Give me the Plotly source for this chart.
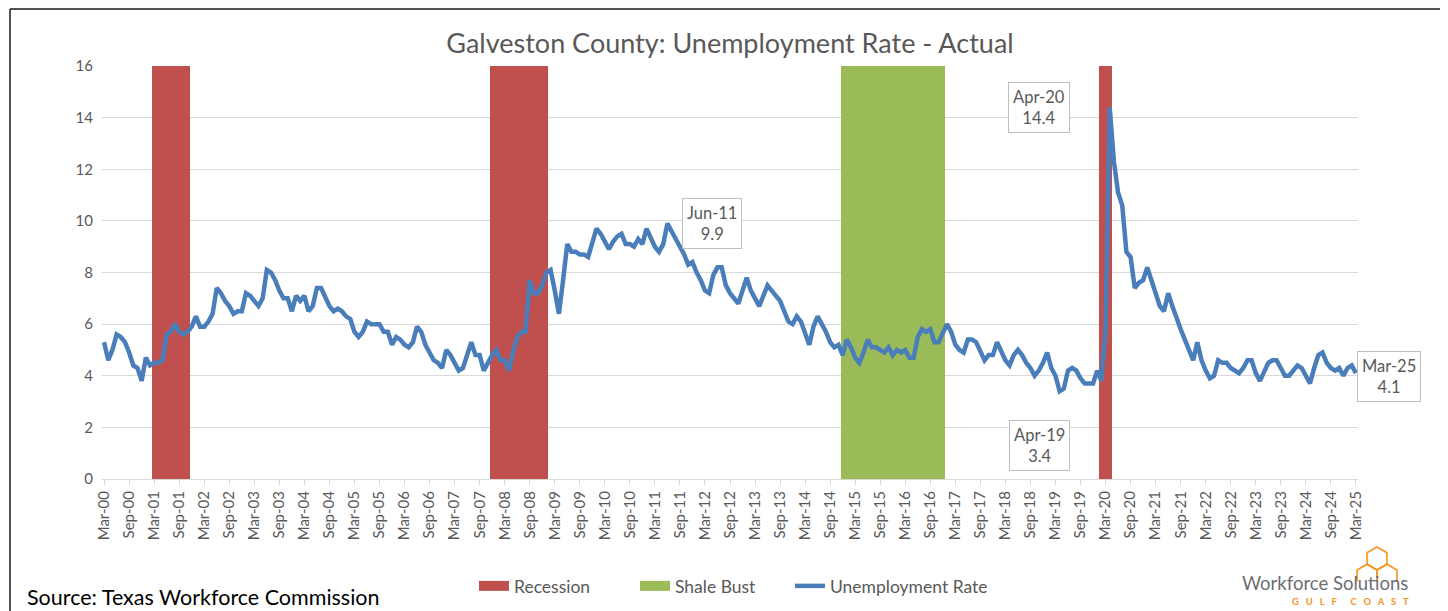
import math
import pandas as pd
import plotly.graph_objects as go

# ---------------- data ----------------
months = list(pd.period_range("2000-03", "2025-03", freq="M").strftime("%b-%y"))

unemployment_rate = [
    5.3, 4.6, 5.0, 5.6, 5.5, 5.3, 4.9, 4.4, 4.3, 3.8, 4.7, 4.4,
    4.5, 4.5, 4.6, 5.6, 5.7, 6.0, 5.7, 5.6, 5.7, 5.9, 6.3, 5.9,
    5.9, 6.1, 6.4, 7.4, 7.2, 6.9, 6.7, 6.4, 6.5, 6.5, 7.2, 7.1,
    6.9, 6.7, 7.0, 8.1, 8.0, 7.7, 7.3, 7.0, 7.0, 6.5, 7.1, 6.9,
    7.1, 6.5, 6.7, 7.4, 7.4, 7.0, 6.7, 6.5, 6.6, 6.5, 6.3, 6.2,
    5.7, 5.5, 5.7, 6.1, 6.0, 6.0, 6.0, 5.7, 5.7, 5.2, 5.5, 5.4,
    5.2, 5.1, 5.3, 5.9, 5.7, 5.2, 4.9, 4.6, 4.5, 4.3, 5.0, 4.8,
    4.5, 4.2, 4.3, 4.8, 5.3, 4.8, 4.8, 4.2, 4.5, 4.8, 5.0, 4.6,
    4.6, 4.2, 4.9, 5.5, 5.7, 5.7, 7.7, 7.2, 7.2, 7.5, 8.0, 8.1,
    7.3, 6.4, 7.7, 9.1, 8.8, 8.8, 8.7, 8.7, 8.6, 9.2, 9.7, 9.5,
    9.2, 8.9, 9.2, 9.4, 9.5, 9.1, 9.1, 9.0, 9.3, 9.1, 9.7, 9.3,
    9.0, 8.8, 9.1, 9.9, 9.6, 9.3, 9.0, 8.7, 8.3, 8.4, 8.0, 7.7,
    7.3, 7.2, 7.9, 8.2, 8.2, 7.5, 7.2, 7.0, 6.8, 7.3, 7.8, 7.3,
    7.0, 6.7, 7.1, 7.5, 7.3, 7.1, 6.9, 6.5, 6.1, 6.0, 6.3, 6.1,
    5.6, 5.2, 5.9, 6.3, 6.0, 5.7, 5.3, 5.1, 5.2, 4.8, 5.4, 5.1,
    4.7, 4.5, 4.9, 5.4, 5.1, 5.1, 5.0, 4.9, 5.1, 4.8, 5.0, 4.9,
    5.0, 4.7, 4.7, 5.5, 5.8, 5.7, 5.8, 5.3, 5.3, 5.7, 6.0, 5.7,
    5.2, 5.0, 4.9, 5.4, 5.4, 5.3, 4.9, 4.6, 4.8, 4.8, 5.3, 4.9,
    4.6, 4.4, 4.8, 5.0, 4.8, 4.5, 4.3, 4.0, 4.2, 4.5, 4.9, 4.3,
    4.0, 3.4, 3.5, 4.2, 4.3, 4.2, 3.9, 3.7, 3.7, 3.7, 4.2, 3.8,
    5.8, 14.4, 12.3, 11.1, 10.6, 8.8, 8.6, 7.4, 7.6, 7.7, 8.2, 7.7,
    7.1, 6.7, 6.5, 7.2, 6.7, 6.2, 5.8, 5.4, 5.0, 4.6, 5.3, 4.6,
    4.2, 3.9, 4.0, 4.6, 4.5, 4.5, 4.3, 4.2, 4.1, 4.3, 4.6, 4.6,
    4.1, 3.8, 4.2, 4.5, 4.6, 4.6, 4.3, 4.0, 4.0, 4.2, 4.4, 4.3,
    4.0, 3.7, 4.3, 4.8, 4.9, 4.5, 4.3, 4.2, 4.3, 4.0, 4.3, 4.4,
    4.1,
]

recession_periods = [("Mar-01", "Nov-01"), ("Dec-07", "Jan-09"), ("Feb-20", "Apr-20")]
shale_bust_periods = [("Dec-14", "Dec-16")]
band_top = 16

tick_labels = months[::6]

callouts = [  # (month, xshift px, yshift px)
    ("Jun-11", 45, 0),
    ("Apr-20", -71, 0),
    ("Apr-19", -20, -54),
    ("Mar-25", 33, -3),
]


def band_values(periods):
    out = [None] * len(months)
    for a, b in periods:
        for k in range(months.index(a), months.index(b) + 1):
            out[k] = band_top
    return out


recession = band_values(recession_periods)
shale = band_values(shale_bust_periods)

# ---------------- styling ----------------
FONT = "Lato"
GREY = "#595959"
RED = "#C0504D"
GREEN = "#9BBB59"
BLUE = "#4A7EBB"
ORANGE = "#F7941D"

OFF = 8                      # page body margin offset
W, H = 1448 - OFF, 611 - OFF
PL, PR, PT, PB = 102, 1358, 66, 479   # plot area in reference pixels


def px(x):
    return (x - PL) / (PR - PL)


def py(y):
    return (PB - y) / (PB - PT)


fig = go.Figure()
fig.add_trace(go.Bar(x=months, y=recession, name="Recession", showlegend=False,
                     marker=dict(color=RED, line=dict(width=0)), hoverinfo="skip"))
fig.add_trace(go.Bar(x=months, y=shale, name="Shale Bust", showlegend=False,
                     marker=dict(color=GREEN, line=dict(width=0)), hoverinfo="skip"))
# legend-only entries drawn as wide swatches
fig.add_trace(go.Scatter(x=[None], y=[None], mode="lines", name="Recession",
                         line=dict(color=RED, width=12), legend="legend"))
fig.add_trace(go.Scatter(x=[None], y=[None], mode="lines", name="Shale Bust",
                         line=dict(color=GREEN, width=12), legend="legend2"))
fig.add_trace(go.Scatter(x=months, y=unemployment_rate, mode="lines", name="Unemployment Rate",
                         line=dict(color=BLUE, width=4.5, shape="linear"), legend="legend3"))

annotations = []
for m, dx, dy in callouts:
    k = months.index(m)
    annotations.append(dict(
        x=m, y=unemployment_rate[k], xref="x", yref="y",
        text=f"{m}<br>{unemployment_rate[k]:.1f}", showarrow=False,
        xshift=dx, yshift=dy, align="center",
        font=dict(family=FONT, size=16.5, color=GREY),
        bgcolor="white", bordercolor="#BFBFBF", borderwidth=1, borderpad=4,
    ))

annotations.append(dict(
    x=px(25), y=py(597), xref="paper", yref="paper", xanchor="left", yanchor="middle",
    text="Source: Texas Workforce Commission", showarrow=False,
    font=dict(family=FONT, size=21.5, color="#000000"),
))
annotations.append(dict(
    x=px(1410), y=py(583), xref="paper", yref="paper", xanchor="right", yanchor="middle",
    text="Workforce Solutions", showarrow=False,
    font=dict(family="Liberation Sans Narrow, Lato", size=18.5, color="#6D6E71"),
))
annotations.append(dict(
    x=px(1411), y=py(601), xref="paper", yref="paper", xanchor="right", yanchor="middle",
    text="<b>G&nbsp;&nbsp;&nbsp;U&nbsp;&nbsp;&nbsp;L&nbsp;&nbsp;&nbsp;F&nbsp;&nbsp;&nbsp;&nbsp;&nbsp;&nbsp;C&nbsp;&nbsp;&nbsp;O&nbsp;&nbsp;&nbsp;A&nbsp;&nbsp;&nbsp;S&nbsp;&nbsp;&nbsp;T</b>",
    showarrow=False, font=dict(family=FONT, size=9.5, color=ORANGE),
))

BORDER = dict(color="#1a1a1a", width=1.5)
TOP_Y = OFF + 1.0
shapes = [
    dict(type="line", xref="paper", yref="paper", x0=px(10), x1=px(10), y0=py(660), y1=py(TOP_Y), line=BORDER),
    dict(type="line", xref="paper", yref="paper", x0=px(1441), x1=px(1441), y0=py(660), y1=py(TOP_Y), line=BORDER),
    dict(type="line", xref="paper", yref="paper", x0=px(10), x1=px(1441), y0=py(TOP_Y), y1=py(TOP_Y), line=BORDER),
]


def hexpath(cx, cy, r, skip_bottom=False):
    # pointy-top hexagon (screen coords, y down)
    pts = []
    for j in range(6):
        a = math.radians(-90 + 60 * j)
        pts.append((cx + r * math.cos(a), cy + r * math.sin(a)))
    if skip_bottom:
        seq = [pts[k] for k in [2, 1, 0, 5, 4]]
        return "M " + " L ".join(f"{px(a):.5f},{py(b):.5f}" for a, b in seq)
    return "M " + " L ".join(f"{px(a):.5f},{py(b):.5f}" for a, b in pts) + " Z"


R = 11.5
for cx, cy, sb in [(1377, 547 + R, False),
                   (1377 - R * math.sqrt(3) / 2, 547 + R + 1.5 * R, True),
                   (1377 + R * math.sqrt(3) / 2, 547 + R + 1.5 * R, True)]:
    shapes.append(dict(type="path", xref="paper", yref="paper", path=hexpath(cx, cy, R, skip_bottom=sb),
                       line=dict(color=ORANGE, width=1.6)))

LEG = dict(orientation="h", xanchor="left", y=py(586), yanchor="middle",
           font=dict(family=FONT, size=17.5, color=GREY), itemwidth=30,
           bgcolor="rgba(0,0,0,0)")

fig.update_layout(
    width=W, height=H,
    margin=dict(l=PL - OFF, r=W - (PR - OFF), t=PT - OFF, b=H - (PB - OFF), autoexpand=False),
    paper_bgcolor="white", plot_bgcolor="white",
    barmode="overlay", bargap=0,
    title=dict(text="Galveston County: Unemployment Rate - Actual", x=0.5, xref="paper",
               y=1 - (44 - OFF) / H, yref="container", xanchor="center", yanchor="middle",
               font=dict(family=FONT, size=27, color=GREY)),
    xaxis=dict(type="category", range=[-0.5, len(months) - 0.5], automargin=False,
               tickmode="array", tickvals=tick_labels, ticktext=tick_labels,
               tickangle=-90, tickfont=dict(family=FONT, size=15, color=GREY),
               showgrid=False, showline=True, linecolor="#D9D9D9", linewidth=1,
               ticks="outside", ticklen=5, tickcolor="#D9D9D9", zeroline=False),
    yaxis=dict(range=[0, 16], tickvals=list(range(0, 17, 2)), automargin=False,
               tickfont=dict(family=FONT, size=15, color=GREY),
               showgrid=True, gridcolor="#D9D9D9", gridwidth=1, zeroline=False,
               showline=False, ticks="", ticklabelstandoff=8),
    legend=dict(LEG, x=px(474)),
    legend2=dict(LEG, x=px(635)),
    legend3=dict(LEG, x=px(790)),
    annotations=annotations,
    shapes=shapes,
    showlegend=True,
)

fig.write_html("out.html")
